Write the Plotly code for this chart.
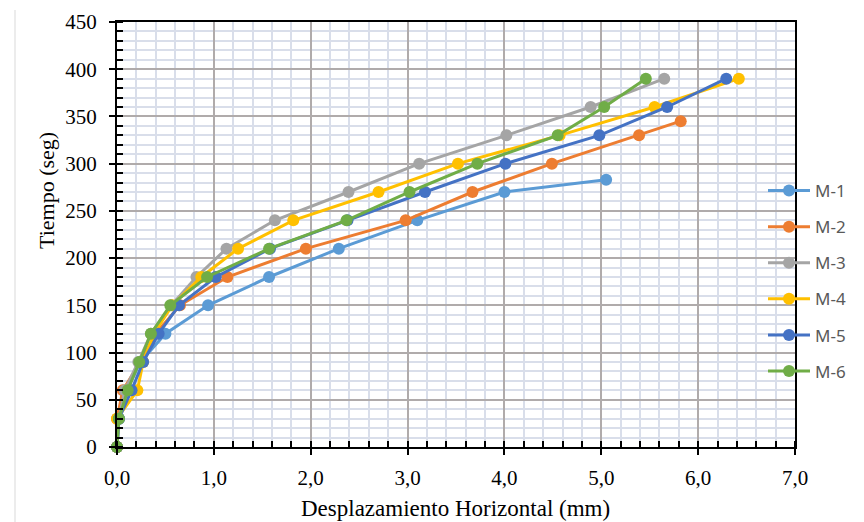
import plotly.graph_objects as go

# ---- data ----
series_names = ["M-1", "M-2", "M-3", "M-4", "M-5", "M-6"]
series_colors = ["#5B9BD5", "#ED7D31", "#A5A5A5", "#FFC000", "#4472C4", "#70AD47"]

t_m1 = [0, 30, 60, 90, 120, 150, 180, 210, 240, 270, 283]
x_m1 = [0.00, 0.02, 0.10, 0.24, 0.50, 0.94, 1.57, 2.29, 3.10, 4.00, 5.05]

t_m2 = [0, 30, 60, 90, 120, 150, 180, 210, 240, 270, 300, 330, 345]
x_m2 = [0.00, 0.00, 0.06, 0.24, 0.40, 0.65, 1.14, 1.95, 2.98, 3.67, 4.49, 5.39, 5.82]

t_m3 = [0, 30, 60, 90, 120, 150, 180, 210, 240, 270, 300, 330, 360, 390]
x_m3 = [0.00, 0.02, 0.08, 0.22, 0.35, 0.56, 0.82, 1.13, 1.63, 2.39, 3.12, 4.02, 4.89, 5.65]

t_m4 = [0, 30, 60, 90, 120, 150, 180, 210, 240, 270, 300, 330, 360, 390]
x_m4 = [0.00, 0.00, 0.21, 0.27, 0.38, 0.57, 0.87, 1.25, 1.82, 2.70, 3.52, 4.57, 5.55, 6.42]

t_m5 = [0, 30, 60, 90, 120, 150, 180, 210, 240, 270, 300, 330, 360, 390]
x_m5 = [0.00, 0.02, 0.15, 0.27, 0.43, 0.64, 1.02, 1.58, 2.38, 3.18, 4.01, 4.98, 5.68, 6.29]

t_m6 = [0, 30, 60, 90, 120, 150, 180, 210, 240, 270, 300, 330, 360, 390]
x_m6 = [0.00, 0.02, 0.11, 0.23, 0.35, 0.55, 0.93, 1.57, 2.37, 3.02, 3.72, 4.55, 5.03, 5.46]

all_x = [x_m1, x_m2, x_m3, x_m4, x_m5, x_m6]
all_t = [t_m1, t_m2, t_m3, t_m4, t_m5, t_m6]

x_title = "Desplazamiento Horizontal (mm)"
y_title = "Tiempo (seg)"

# ---- figure ----
fig = go.Figure()
for name, color, xs, ts in zip(series_names, series_colors, all_x, all_t):
    fig.add_trace(go.Scatter(
        x=xs, y=ts, name=name, mode="lines+markers",
        line=dict(color=color, width=3),
        marker=dict(color=color, size=12),
        legendgroup=name,
        cliponaxis=False,
    ))

serif = "Liberation Serif, Times New Roman, serif"
OFF = 8  # page body margin
W, H = 864 - OFF, 522 - OFF
ml, mt = 117 - OFF, 22 - OFF
mr = W - (795 - OFF)
mb = H - (447 - OFF)
pw, ph = W - ml - mr, H - mt - mb

def px_x(s):
    return (s - OFF - ml) / pw

def px_y(s):
    return (H - mb - (s - OFF)) / ph

fig.update_layout(
    width=W, height=H,
    margin=dict(l=ml, r=mr, t=mt, b=mb, autoexpand=False),
    paper_bgcolor="white", plot_bgcolor="white",
    separators=",.",
    showlegend=True,
    legend=dict(
        x=px_x(763), xanchor="left",
        y=px_y(281), yanchor="middle",
        font=dict(family="Noto Sans, Open Sans, sans-serif", size=17, color="#595959"),
        bgcolor="rgba(0,0,0,0)",
        itemwidth=42,
        tracegroupgap=11,
        traceorder="grouped",
    ),
    xaxis=dict(
        range=[0, 7], dtick=1, tick0=0, tickformat=".1f",
        showline=True, linecolor="black", linewidth=2, mirror=True,
        ticks="outside", ticklen=6, tickwidth=1.5, tickcolor="black",
        showgrid=True, gridcolor="#B0ABAB", gridwidth=1.5,
        minor=dict(dtick=0.2, showgrid=True, gridcolor="#D9DEEA", gridwidth=2,
                   ticks="inside", ticklen=6, tickwidth=1.5, tickcolor="black"),
        zeroline=False, automargin=False,
        ticklabelstandoff=5,
        tickfont=dict(family=serif, size=21, color="black"),
    ),
    yaxis=dict(
        range=[0, 450], dtick=50, tick0=0,
        showline=True, linecolor="black", linewidth=2, mirror=True,
        ticks="outside", ticklen=6, tickwidth=1.5, tickcolor="black",
        showgrid=True, gridcolor="#B0ABAB", gridwidth=1.5,
        minor=dict(dtick=10, showgrid=True, gridcolor="#D9DEEA", gridwidth=2,
                   ticks="inside", ticklen=6, tickwidth=1.5, tickcolor="black"),
        zeroline=False, automargin=False,
        ticklabelstandoff=8,
        tickfont=dict(family=serif, size=21, color="black"),
    ),
    annotations=[
        dict(text=x_title, xref="paper", yref="paper", x=px_x(455), y=px_y(508),
             xanchor="center", yanchor="middle", showarrow=False,
             font=dict(family=serif, size=23, color="black")),
        dict(text=y_title, xref="paper", yref="paper", x=px_x(46), y=px_y(191),
             xanchor="center", yanchor="middle", showarrow=False, textangle=-90,
             font=dict(family=serif, size=22, color="black")),
    ],
)

# faint chart-area border on the left
fig.add_shape(type="line", xref="paper", yref="paper",
              x0=px_x(15), x1=px_x(15),
              y0=px_y(10), y1=px_y(522),
              line=dict(color="#D9D9D9", width=1))

fig.write_html("out.html")
